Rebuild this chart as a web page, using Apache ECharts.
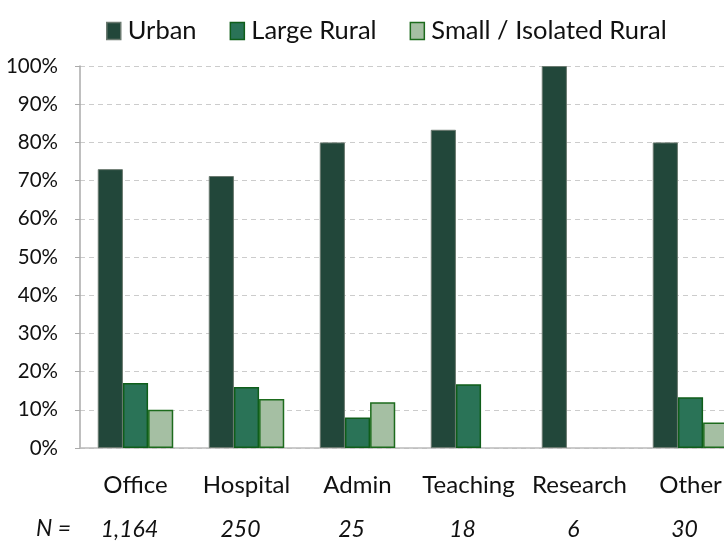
<!DOCTYPE html>
<html><head><meta charset="utf-8">
<script src="https://cdn.jsdelivr.net/npm/echarts@6/dist/echarts.min.js"></script>
<style>html,body{margin:0;padding:0;background:#fff}#c{width:724px;height:542px}</style>
</head><body><div id="c"></div>
<script>
const categories = ['Office','Hospital','Admin','Teaching','Research','Other'];
const nCounts = ['1,164','250','25','18','6','30'];
const urban = [73.0, 71.2, 80.0, 83.3, 100.0, 80.0];
const largeRural = [17.0, 16.0, 8.0, 16.7, 0, 13.3];
const smallRural = [10.0, 12.8, 12.0, 0, 0, 6.7];
const yTicks = [0,10,20,30,40,50,60,70,80,90,100];

const FONT = 'Lato, "Open Sans", sans-serif';
const chart = echarts.init(document.getElementById('c'), null, {renderer:'canvas'});
const nz = a => a.map(v => v === 0 ? null : v);
chart.setOption({
  animation:false,
  textStyle:{fontFamily:FONT},
  legend:{
    top:13, left:101, itemGap:33, itemWidth:14, itemHeight:17, icon:'rect', itemStyle:{borderWidth:1.5},
    textStyle:{fontSize:25.5, color:'#111', fontFamily:FONT, padding:[0,0,0,2]},
    data:['Urban','Large Rural','Small / Isolated Rural']
  },
  grid:{left:80, top:66, right:-22, bottom:94, containLabel:false, outerBoundsMode:'none'},
  xAxis:[{
    type:'category', data:categories,
    axisLine:{lineStyle:{color:'#bbb', width:1.5}},
    axisTick:{show:false},
    axisLabel:{fontSize:24, color:'#111', margin:25, fontFamily:FONT, interval:0, hideOverlap:false}
  },{
    type:'category', data:nCounts, position:'bottom', offset:44,
    axisLine:{show:false}, axisTick:{show:false},
    axisLabel:{fontSize:23, color:'#111', fontStyle:'italic', margin:26, fontFamily:FONT, padding:[0,12,0,0], interval:0, hideOverlap:false}
  }],
  yAxis:{
    type:'value', min:0, max:100, interval:10,
    axisLine:{show:true, lineStyle:{color:'#aaa', width:1.5}},
    axisTick:{show:true, length:5, lineStyle:{color:'#aaa'}},
    axisLabel:{fontSize:20.5, color:'#111', margin:22, fontFamily:FONT,
      formatter: v => yTicks.includes(v) ? v + '%' : ''},
    splitLine:{lineStyle:{color:'#ccc', type:[5,4]}}
  },
  series:[
    {name:'Urban', type:'bar', data:nz(urban), barGap:'0%', barCategoryGap:'32%',
      itemStyle:{color:'#22473a', borderColor:'#6b7a70', borderWidth:1}},
    {name:'Large Rural', type:'bar', data:nz(largeRural),
      itemStyle:{color:'#2a7357', borderColor:'#0f5e1a', borderWidth:1.5}},
    {name:'Small / Isolated Rural', type:'bar', data:nz(smallRural),
      itemStyle:{color:'#a5bfa3', borderColor:'#1d6b1d', borderWidth:1.5}}
  ],
  graphic:[{type:'text', left:36, top:517, style:{text:'N =', fontSize:23, fontStyle:'italic', fill:'#111', fontFamily:FONT}}]
});
</script></body></html>
